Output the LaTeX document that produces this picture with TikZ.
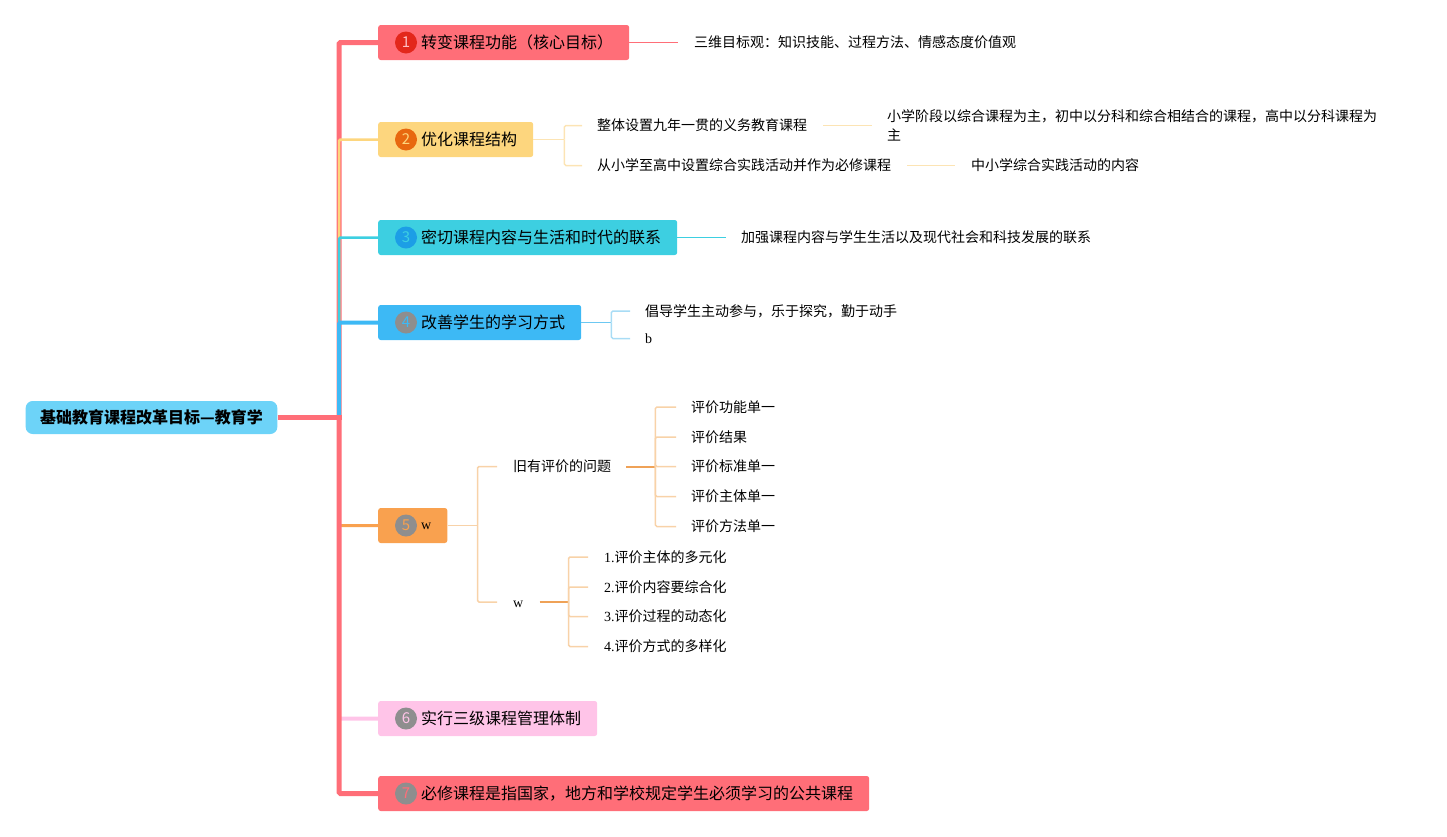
\documentclass[tikz,border=0pt]{standalone}
\usepackage{fontspec}
\setmainfont{Liberation Serif}
\newfontfamily\cjk{Noto Sans CJK SC}
\definecolor{cPink}{HTML}{FF6E78}
\definecolor{cRed}{HTML}{E3271B}
\definecolor{cYel}{HTML}{FDD67E}
\definecolor{cOra}{HTML}{E8680F}
\definecolor{cCyan}{HTML}{3DCFE1}
\definecolor{cBlueC}{HTML}{1C9EE6}
\definecolor{cBlue}{HTML}{3DB9F5}
\definecolor{cGrey}{HTML}{8E8E8E}
\definecolor{cOrange}{HTML}{F9A14F}
\definecolor{cLPink}{HTML}{FFC4E8}
\definecolor{cRoot}{HTML}{6DD3F8}
\definecolor{cYelL}{HTML}{FCE4B4}
\definecolor{cBlueL}{HTML}{A8DCF5}
\definecolor{cBlueM}{HTML}{6CC8F2}
\definecolor{cOraL}{HTML}{F8D2A8}
\definecolor{cOraD}{HTML}{EFA257}
\tikzset{
  branch/.style={anchor=west, fill=#1, rounded corners=2.5pt, minimum height=35pt,
    inner ysep=0pt, inner xsep=16pt, font=\cjk\fontsize{16}{19}\selectfont,
    text height=14pt, text depth=2pt},
  icon/.style={circle, minimum size=22pt, inner sep=0pt, font=\cjk\fontsize{15}{15}\selectfont},
  leaf/.style={anchor=west, inner xsep=0pt, inner ysep=2pt, font=\cjk\fontsize{14}{19}\selectfont,
    text height=12.3pt, text depth=1.7pt},
  leafser/.style={anchor=west, inner xsep=0pt, inner ysep=2pt, font=\fontsize{14}{19}\selectfont,
    text height=12.3pt, text depth=1.7pt},
  rootbox/.style={fill=cRoot, rounded corners=7pt, minimum height=33pt, inner xsep=14.5pt,
    inner ysep=0pt, font=\cjk\bfseries\fontsize{16}{19}\selectfont, text height=14pt, text depth=2pt},
  conn/.style={rounded corners=1.5pt},
}
\begin{document}
\begin{tikzpicture}[x=1pt,y=-1pt]
\useasboundingbox (0,0) rectangle (1447,836);
% root
\node[rootbox] (root) at (151.5,417.5) {基础教育课程改革目标—教育学};
\coordinate (T) at (339,417.5);
% main branches
\node[branch=cPink] (b1) at (378,42.5) {\hspace*{27pt}转变课程功能（核心目标）};
\node[branch=cYel] (b2) at (378,139.5) {\hspace*{27pt}优化课程结构};
\node[branch=cCyan] (b3) at (378,237.5) {\hspace*{27pt}密切课程内容与生活和时代的联系};
\node[branch=cBlue] (b4) at (378,322.5) {\hspace*{27pt}改善学生的学习方式};
\node[branch=cOrange] (b5) at (378,525.5) {\hspace*{27pt}{\rmfamily\fontsize{14}{14}\selectfont\raisebox{2pt}{w}}};
\node[branch=cLPink] (b6) at (378,718.5) {\hspace*{27pt}实行三级课程管理体制};
\node[branch=cPink] (b7) at (378,793.5) {\hspace*{27pt}必修课程是指国家，地方和学校规定学生必须学习的公共课程};
% icons
\node[icon, fill=cRed, text=cPink!45!white] (i1) at ([xshift=28]b1.west) {1};
\node[icon, fill=cOra, text=cYel] (i2) at ([xshift=28]b2.west) {2};
\node[icon, fill=cBlueC, text=cCyan] (i3) at ([xshift=28]b3.west) {3};
\node[icon, fill=cGrey, text=cBlue] (i4) at ([xshift=28]b4.west) {4};
\node[icon, fill=cGrey, text=cOrange] (i5) at ([xshift=28]b5.west) {5};
\node[icon, fill=cGrey, text=cLPink] (i6) at ([xshift=28]b6.west) {6};
\node[icon, fill=cGrey, text=cPink] (i7) at ([xshift=28]b7.west) {7};
% trunk connectors
\draw[conn, cPink, line width=5pt] (T) |- (b1.west);
\draw[conn, cYel, line width=2.5pt] (T) |- (b2.west);
\draw[conn, cCyan, line width=2.5pt] (T) |- (b3.west);
\draw[conn, cBlue, line width=4pt] (T) |- (b4.west);
\draw[conn, cOrange, line width=3pt] (T) |- (b5.west);
\draw[conn, cLPink, line width=4pt] (T) |- (b6.west);
\draw[conn, cPink, line width=5pt] (T) |- (b7.west);
\draw[cPink, line width=5pt] (root.east) -- ([xshift=2.5]T);
% branch 1
\node[leaf] (g1) at (694,42.5) {三维目标观：知识技能、过程方法、情感态度价值观};
\draw[cPink, line width=1pt] (b1.east) -- ([xshift=-16]g1.west);
% branch 2
\node[leaf] (c21) at (597,125.5) {整体设置九年一贯的义务教育课程};
\node[leaf] (c22) at (597,165.5) {从小学至高中设置综合实践活动并作为必修课程};
\draw[cYelL, line width=1.5pt] (b2.east) -- ++(31,0) coordinate (k2);
\draw[conn, cYelL, line width=1.5pt] (k2) |- ([xshift=-15]c21.west);
\draw[conn, cYelL, line width=1.5pt] (k2) |- ([xshift=-15]c22.west);
\node[anchor=west, inner xsep=0pt, align=left, font=\cjk\fontsize{14}{19}\selectfont] (g21) at (887,125.5)
  {小学阶段以综合课程为主，初中以分科和综合相结合的课程，高中以分科课程为\\主};
\node[leaf] (g22) at (971,165.5) {中小学综合实践活动的内容};
\draw[cYelL, line width=1.5pt] ([xshift=16]c21.east) -- ([xshift=-15]g21.west);
\draw[cYelL, line width=1.5pt] ([xshift=16]c22.east) -- ([xshift=-16]g22.west);
% branch 3
\node[leaf] (g3) at (741,237.5) {加强课程内容与学生生活以及现代社会和科技发展的联系};
\draw[cCyan, line width=1pt] (b3.east) -- ([xshift=-15]g3.west);
% branch 4
\node[leaf] (c41) at (645,311) {倡导学生主动参与，乐于探究，勤于动手};
\node[leafser] (c42) at (645,338.5) {b};
\draw[cBlueM, line width=1.5pt] (b4.east) -- ++(30,0) coordinate (k4);
\draw[conn, cBlueL, line width=1.5pt] (k4) |- ([xshift=-15]c41.west);
\draw[conn, cBlueL, line width=1.5pt] (k4) |- ([xshift=-15]c42.west);
% branch 5
\node[leaf] (c51) at (513,466.5) {旧有评价的问题};
\node[leafser] (c52) at (513,602) {w};
\draw[cOraL, line width=1.5pt] (b5.east) -- ++(30,0) coordinate (k5);
\draw[conn, cOraL, line width=1.5pt] (k5) |- ([xshift=-16]c51.west);
\draw[conn, cOraL, line width=1.5pt] (k5) |- ([xshift=-16]c52.west);
\node[leaf] (d1) at (691,407) {评价功能单一};
\node[leaf] (d2) at (691,437) {评价结果};
\node[leaf] (d3) at (691,466.5) {评价标准单一};
\node[leaf] (d4) at (691,496.5) {评价主体单一};
\node[leaf] (d5) at (691,526.5) {评价方法单一};
\draw[cOraD, line width=2pt] ([xshift=15]c51.east) -- ++(29,0) coordinate (k51);
\foreach \n in {d1,d2,d3,d4,d5}
  \draw[conn, cOraL, line width=1.5pt] (k51) |- ([xshift=-15]\n.west);
\node[leafser] (e1) at (604,557) {1.{\cjk 评价主体的多元化}};
\node[leafser] (e2) at (604,587) {2.{\cjk 评价内容要综合化}};
\node[leafser] (e3) at (604,616.5) {3.{\cjk 评价过程的动态化}};
\node[leafser] (e4) at (604,646.5) {4.{\cjk 评价方式的多样化}};
\draw[cOraD, line width=2pt] ([xshift=16]c52.east) -- ++(29,0) coordinate (k52);
\foreach \n in {e1,e2,e3,e4}
  \draw[conn, cOraL, line width=1.5pt] (k52) |- ([xshift=-16]\n.west);
\end{tikzpicture}
\end{document}
